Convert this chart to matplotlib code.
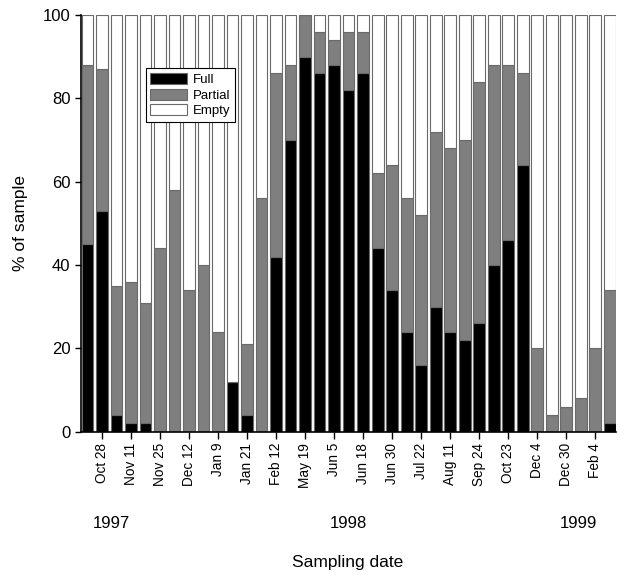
import numpy as np
import matplotlib
matplotlib.use("Agg")
import matplotlib.pyplot as plt

plt.rcParams['font.family'] = ['Liberation Sans', 'DejaVu Sans']

# % of sample in each category, one value per sampling date (37 samples)
full = [45, 53, 4, 2, 2, 0, 0, 0, 0, 0, 12, 4, 0, 42, 70, 90, 86, 88, 82,
        86, 44, 34, 24, 16, 30, 24, 22, 26, 40, 46, 64, 0, 0, 0, 0, 0, 2]
partial = [43, 34, 31, 34, 29, 44, 58, 34, 40, 24, 0, 17, 56, 44, 18, 10, 10, 6, 14,
           10, 18, 30, 32, 36, 42, 44, 48, 58, 48, 42, 22, 20, 4, 6, 8, 20, 32]
empty = [100 - f - p for f, p in zip(full, partial)]

# labelled dates (every second sample)
tick_labels = ["Oct 28", "Nov 11", "Nov 25", "Dec 12", "Jan 9", "Jan 21",
               "Feb 12", "May 19", "Jun 5", "Jun 18", "Jun 30", "Jul 22",
               "Aug 11", "Sep 24", "Oct 23", "Dec 4", "Dec 30", "Feb 4"]
years = ["1997", "1998", "1999"]

full = np.array(full)
partial = np.array(partial)
empty = np.array(empty)
x = np.arange(len(full))

fig = plt.figure(figsize=(6.18, 5.75), dpi=100)
ax = fig.add_axes([0.131, 0.249, 0.866, 0.725])

w = 0.82
edge = dict(edgecolor='#6a6a6a', linewidth=0.8)
ax.bar(x, full, w, color='black', label='Full', **edge)
ax.bar(x, partial, w, bottom=full, color='#7f7f7f', label='Partial', **edge)
ax.bar(x, empty, w, bottom=full + partial, color='white', label='Empty', **edge)

ax.set_xlim(-0.45, len(full) - 0.55)
ax.set_ylim(0, 100)
ax.set_yticks([0, 20, 40, 60, 80, 100])
ax.set_xticks(x[1::2])
ax.set_xticklabels(tick_labels, rotation=90, fontsize=9.8)
ax.tick_params(axis='y', labelsize=12, direction='out', length=4, width=1)
ax.tick_params(axis='x', direction='out', length=5, width=1, pad=3)

for s in ['top', 'right']:
    ax.spines[s].set_visible(False)
ax.spines['left'].set_linewidth(1.2)
ax.spines['bottom'].set_linewidth(1.2)

ax.set_ylabel('% of sample', fontsize=12.5, labelpad=11)

# year labels below the dates
for yr, xf in zip(years, [0.057, 0.499, 0.93]):
    fig.text(0.131 + 0.866 * xf, 0.090, yr, ha='center', va='center', fontsize=12)
fig.text(0.563, 0.021, 'Sampling date', ha='center', va='center', fontsize=12.5)

leg = ax.legend(loc='upper left', bbox_to_anchor=(0.121, 0.872), fontsize=9.5,
                frameon=True, fancybox=False, edgecolor='black', framealpha=1,
                handlelength=2.8, handleheight=0.9, borderpad=0.35,
                labelspacing=0.2, handletextpad=0.4, borderaxespad=0)
leg.get_frame().set_linewidth(0.8)

fig.savefig('out.png', dpi=100)
